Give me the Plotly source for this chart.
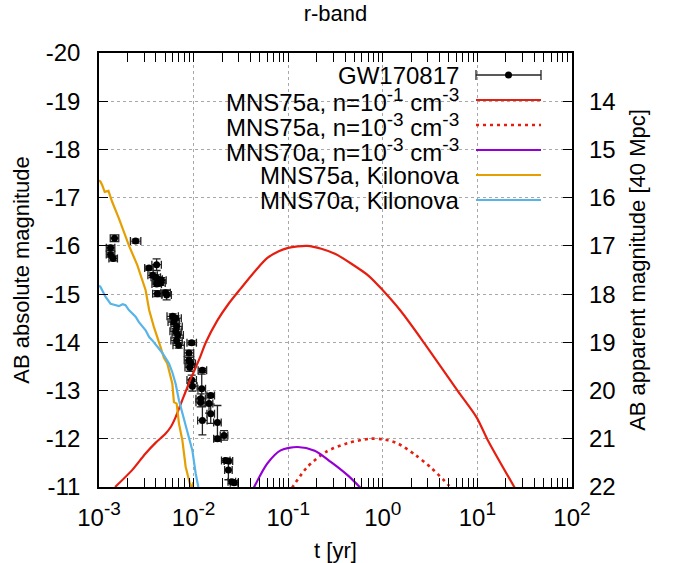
import numpy as np
import plotly.graph_objects as go

# ---------------- data ----------------
# GW170817 r-band points: log10(t/yr), absolute magnitude, mag error, time error (dex)
obs_logt = [-2.836, -2.613, -2.878, -2.878, -2.850, -2.472, -2.391, -2.433, -2.400, -2.380,
            -2.370, -2.350, -2.390, -2.340, -2.383, -2.285, -2.296, -2.221, -2.190, -2.210,
            -2.180, -2.190, -2.168, -2.180, -2.158, -2.020, -2.049, -2.049, -2.030, -2.041,
            -1.907, -2.020, -2.013, -1.914, -1.925, -1.925, -1.819, -1.837, -1.819, -1.907,
            -1.748, -1.748, -1.678, -1.660, -1.632, -1.632, -1.596, -1.572]
obs_mag = [-16.16, -16.10, -15.96, -15.82, -15.74, -15.54, -15.61, -15.39, -15.35, -15.31,
           -15.27, -15.23, -15.21, -15.29, -15.01, -14.98, -15.03, -14.54, -14.50, -14.42,
           -14.33, -14.23, -14.15, -14.04, -13.94, -13.99, -13.78, -13.63, -13.56, -13.48,
           -13.42, -13.22, -13.09, -13.04, -12.83, -12.76, -12.90, -12.73, -12.52, -12.38,
           -12.34, -12.00, -12.07, -11.55, -11.54, -11.35, -11.11, -11.09]
obs_magerr = [0.07, 0.04, 0.05, 0.05, 0.05, 0.04, 0.12, 0.05, 0.05, 0.05,
              0.05, 0.05, 0.05, 0.05, 0.06, 0.10, 0.05, 0.05, 0.05, 0.05,
              0.06, 0.06, 0.06, 0.06, 0.06, 0.04, 0.06, 0.06, 0.08, 0.08,
              0.04, 0.10, 0.10, 0.30, 0.10, 0.10, 0.04, 0.20, 0.20, 0.30,
              0.35, 0.05, 0.10, 0.04, 0.04, 0.20, 0.04, 0.04]
obs_terr_dex = [0.045, 0.055, 0.045, 0.045, 0.045, 0.045, 0.05, 0.05, 0.05, 0.05,
                0.05, 0.05, 0.05, 0.05, 0.05, 0.05, 0.05, 0.06, 0.06, 0.06,
                0.06, 0.06, 0.06, 0.06, 0.06, 0.05, 0.05, 0.05, 0.05, 0.05,
                0.045, 0.05, 0.05, 0.04, 0.05, 0.05, 0.04, 0.04, 0.04, 0.05,
                0.04, 0.04, 0.04, 0.045, 0.045, 0.04, 0.04, 0.04]

# MNS75a, n=1e-1 cm^-3 (red solid)
r1_logt = [-2.83, -2.65, -2.51, -2.40, -2.30, -2.24, -2.19, -2.14, -2.10, -2.05, -2.00, -1.93,
           -1.87, -1.75, -1.63, -1.50, -1.34, -1.22, -1.10, -1.00, -0.90, -0.80, -0.65, -0.50,
           -0.34, -0.15, 0.00, 0.19, 0.44, 0.79, 0.99, 1.11, 1.39, 1.45]
r1_mag = [-11.0, -11.35, -11.69, -11.92, -12.1, -12.25, -12.45, -12.7, -12.9, -13.15, -13.38, -13.7,
          -14.0, -14.45, -14.8, -15.12, -15.5, -15.75, -15.89, -15.96, -15.99, -16.0, -15.94, -15.83,
          -15.64, -15.38, -15.08, -14.65, -13.98, -13.0, -12.45, -11.97, -11.0, -10.8]

# MNS75a, n=1e-3 cm^-3 (red dotted)
r3_logt = [-0.96, -0.80, -0.60, -0.37, -0.14, 0.00, 0.16, 0.34, 0.51, 0.69, 0.72]
r3_mag = [-10.98, -11.41, -11.73, -11.91, -12.0, -11.99, -11.9, -11.67, -11.4, -11.05, -10.98]

# MNS70a, n=1e-3 cm^-3 (purple)
p3_logt = [-1.37, -1.22, -1.08, -0.90, -0.72, -0.55, -0.37, -0.23]
p3_mag = [-10.96, -11.49, -11.76, -11.83, -11.75, -11.52, -11.24, -10.97]

# MNS75a kilonova (orange)
k75_logt = [-3.0, -2.984, -2.966, -2.94, -2.90, -2.86, -2.79, -2.684, -2.595, -2.54, -2.507,
            -2.47, -2.42, -2.349, -2.314, -2.278, -2.225, -2.208, -2.179, -2.155, -2.119,
            -2.084, -2.049, -2.03, -2.015, -2.005]
k75_mag = [-17.36, -17.33, -17.26, -17.12, -17.14, -16.91, -16.57, -16.01, -15.6, -15.3, -15.08,
           -14.67, -14.32, -13.9, -13.68, -13.56, -13.14, -12.76, -12.73, -12.32, -11.97,
           -11.42, -11.10, -11.0, -11.0, -11.1]

# MNS70a kilonova (blue)
k70_logt = [-3.0, -2.984, -2.93, -2.878, -2.84, -2.79, -2.75, -2.72, -2.684, -2.613, -2.578,
            -2.507, -2.47, -2.436, -2.33, -2.26, -2.225, -2.19, -2.155, -2.084, -2.013,
            -1.978, -1.95]
k70_mag = [-15.18, -15.15, -14.94, -14.80, -14.78, -14.75, -14.79, -14.77, -14.67, -14.53, -14.42,
           -14.25, -14.11, -14.04, -13.78, -13.56, -13.38, -13.14, -12.8, -12.25, -11.76,
           -11.28, -11.0]

SUP = '<sup><span style="font-size:19px">{}</span></sup>'
x_tickvals = [1e-3, 1e-2, 1e-1, 1e0, 1e1, 1e2]
x_ticktext = ["10" + SUP.format(e) for e in ["-3", "-2", "-1", "0", "1", "2"]]
y_tickvals = [-20, -19, -18, -17, -16, -15, -14, -13, -12, -11]
y_ticktext = ["-20", "-19", "-18", "-17", "-16", "-15", "-14", "-13", "-12", "-11"]
y2_tickvals = [14, 15, 16, 17, 18, 19, 20, 21, 22]
y2_ticktext = ["14", "15", "16", "17", "18", "19", "20", "21", "22"]
dist_mod = 33.0  # 40 Mpc

legend_labels = ["GW170817",
                 "MNS75a, n=10" + SUP.format("-1") + " cm" + SUP.format("-3"),
                 "MNS75a, n=10" + SUP.format("-3") + " cm" + SUP.format("-3"),
                 "MNS70a, n=10" + SUP.format("-3") + " cm" + SUP.format("-3"),
                 "MNS75a, Kilonova",
                 "MNS70a, Kilonova"]

RED = "#e51e10"
PURPLE = "#9400d3"
ORANGE = "#e69f00"
BLUE = "#56b4e9"

FONT = "Liberation Sans, Arial, Helvetica, sans-serif"

# ---------------- figure ----------------
fig = go.Figure()

t_obs = 10 ** np.array(obs_logt)
d = np.array(obs_terr_dex)
fig.add_trace(go.Scatter(
    x=t_obs, y=obs_mag, mode="markers",
    marker=dict(color="black", size=7),
    error_x=dict(type="data", symmetric=False,
                 array=t_obs * (10 ** d - 1), arrayminus=t_obs * (1 - 10 ** (-d)),
                 color="#222222", thickness=1.3, width=4),
    error_y=dict(type="data", array=obs_magerr, color="#222222", thickness=1.3, width=4),
    showlegend=False))

def curve(lt, m, color, dash="solid", width=2.2, smooth=True):
    fig.add_trace(go.Scatter(x=10 ** np.array(lt), y=m, mode="lines",
                             line=dict(color=color, width=width, dash=dash,
                                       shape=("spline" if smooth else "linear"),
                                       smoothing=0.8),
                             showlegend=False))

curve(r1_logt, r1_mag, RED)
curve(r3_logt, r3_mag, RED, dash="3px,4px", width=2.6)
curve(p3_logt, p3_mag, PURPLE)
curve(k75_logt, k75_mag, ORANGE, smooth=False)
curve(k70_logt, k70_mag, BLUE, smooth=False)

# invisible trace to activate right axis
fig.add_trace(go.Scatter(x=[None], y=[None], yaxis="y2", showlegend=False, hoverinfo="skip"))

minor_vals = [m * 10.0 ** k for k in range(-3, 2) for m in range(2, 10)]

L, R, T, B = 99, 108, 53, 76
W, H = 680, 563
pw, ph = W - L - R, H - T - B

fig.update_layout(
    width=W, height=H,
    margin=dict(l=L, r=R, t=T, b=B),
    plot_bgcolor="white", paper_bgcolor="white",
    font=dict(family=FONT, size=24, color="black"),
    showlegend=False,
    title=dict(text="r-band", x=0.5, xref="paper", xanchor="center",
               y=1 - 13 / H, yref="container", yanchor="middle",
               font=dict(size=22)),
    xaxis=dict(type="log", range=[-3, 2], tickvals=x_tickvals, ticktext=x_ticktext,
               ticks="inside", ticklen=9, tickwidth=1.2, tickcolor="black",
               showline=True, linewidth=1.5, linecolor="black", mirror="allticks",
               showgrid=True, gridcolor="#a8a8a8", griddash="dot", gridwidth=1,
               zeroline=False, ticklabelstandoff=8, automargin=False,
               minor=dict(tickvals=minor_vals, ticks="inside", ticklen=5,
                          tickcolor="black", tickwidth=1, showgrid=False),
               title=dict(text="t [yr]", standoff=16, font=dict(size=22))),
    yaxis=dict(range=[-11, -20], tickvals=y_tickvals, ticktext=y_ticktext,
               ticks="inside", ticklen=9, tickwidth=1.2, tickcolor="black",
               showline=True, linewidth=1.5, linecolor="black", mirror=True,
               showgrid=True, gridcolor="#a8a8a8", griddash="dot", gridwidth=1,
               zeroline=False, ticklabelstandoff=12, automargin=False,
               title=dict(text="AB absolute magnitude", standoff=10, font=dict(size=22))),
    yaxis2=dict(overlaying="y", side="right", range=[-11 + dist_mod, -20 + dist_mod],
                tickvals=y2_tickvals, ticktext=y2_ticktext,
                ticks="inside", ticklen=9, tickwidth=1.2, tickcolor="black",
                showline=False, showgrid=False, zeroline=False, ticklabelstandoff=16,
                automargin=False,
                title=dict(text="AB apparent magnitude [40 Mpc]", standoff=14,
                           font=dict(size=22))),
)

# ---------------- key (gnuplot style: text left, sample right) ----------------
def xp(px):
    return (px - L) / pw

def yp(py):
    return (H - B - py) / ph

rows = [75, 100, 125, 150, 175, 200]
txt_right, s0, s1 = 461, 476, 541
styles = [None, (RED, "solid", 2.2), (RED, "dot", 2.6), (PURPLE, "solid", 2.2),
          (ORANGE, "solid", 2.2), (BLUE, "solid", 2.2)]
for lab, py, st in zip(legend_labels, rows, styles):
    fig.add_annotation(x=xp(txt_right), y=yp(py), xref="paper", yref="paper",
                       text=lab, showarrow=False, xanchor="right", yanchor="middle",
                       font=dict(size=24))
    if st is None:
        fig.add_shape(type="line", xref="paper", yref="paper", x0=xp(s0), x1=xp(s1),
                      y0=yp(py), y1=yp(py), line=dict(color="#222222", width=1.3))
        for sx in (s0, s1):
            fig.add_shape(type="line", xref="paper", yref="paper", x0=xp(sx), x1=xp(sx),
                          y0=yp(py - 5), y1=yp(py + 5), line=dict(color="#222222", width=1.3))
        fig.add_shape(type="circle", xref="paper", yref="paper",
                      xsizemode="pixel", ysizemode="pixel",
                      xanchor=xp((s0 + s1) / 2), yanchor=yp(py),
                      x0=-3.5, x1=3.5, y0=-3.5, y1=3.5,
                      fillcolor="black", line=dict(color="black", width=0))
    else:
        c, ds, w = st
        fig.add_shape(type="line", xref="paper", yref="paper", x0=xp(s0), x1=xp(s1),
                      y0=yp(py), y1=yp(py),
                      line=dict(color=c, width=w, dash=("3px,4px" if ds == "dot" else "solid")))

fig.write_html("out.html")
